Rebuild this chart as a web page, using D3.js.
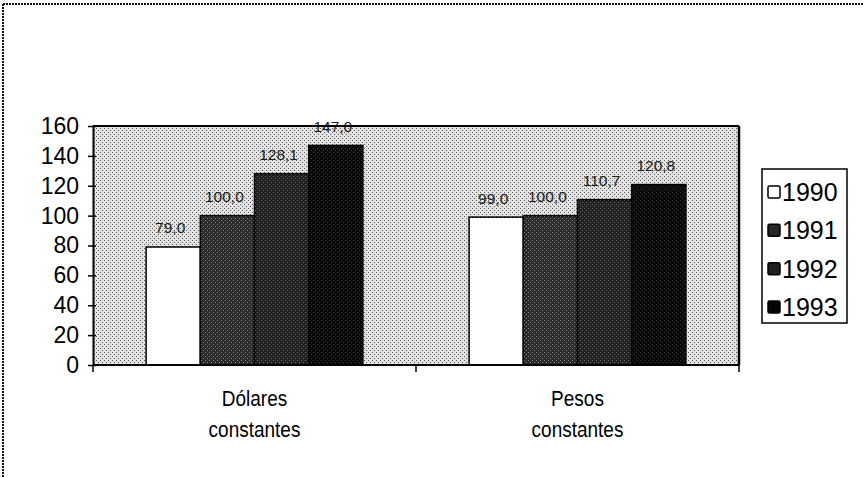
<!DOCTYPE html>
<html>
<head>
<meta charset="utf-8">
<script src="https://cdn.jsdelivr.net/npm/d3@7"></script>
<style>
  html, body { margin: 0; padding: 0; background: #fff; }
  svg { display: block; font-family: Arial, "Liberation Sans", sans-serif; }
</style>
</head>
<body>
<svg id="chart" width="864" height="478"></svg>
<script>
// ---- data ----
const categories = ["Dólares constantes", "Pesos constantes"];
const categoryLines = [["Dólares", "constantes"], ["Pesos", "constantes"]];
const years = ["1990", "1991", "1992", "1993"];
const values1990 = [79.0, 99.0];
const values1991 = [100.0, 100.0];
const values1992 = [128.1, 110.7];
const values1993 = [147.0, 120.8];
const yTicks = [0, 20, 40, 60, 80, 100, 120, 140, 160];

const seriesValues = [values1990, values1991, values1992, values1993];
const fmt = v => d3.format(".1f")(v).replace(".", ",");

const svg = d3.select("#chart");
const defs = svg.append("defs");

// stipple patterns
function stipple(id, base, dot) {
  const p = defs.append("pattern").attr("id", id).attr("patternUnits", "userSpaceOnUse")
    .attr("width", 4).attr("height", 4);
  p.append("rect").attr("width", 4).attr("height", 4).attr("fill", base);
  p.append("rect").attr("x", 0).attr("y", 0).attr("width", 1).attr("height", 1).attr("fill", dot);
  p.append("rect").attr("x", 2).attr("y", 2).attr("width", 1).attr("height", 1).attr("fill", dot);
}
stipple("bg", "#e2e2e2", "#5a5a5a");
stipple("p1991", "#2a2a2a", "#8a8a8a");
stipple("p1992", "#202020", "#727272");
stipple("p1993", "#080808", "#3a3a3a");
const fills = ["#ffffff", "url(#p1991)", "url(#p1992)", "url(#p1993)"];
const legendFills = ["#ffffff", "#262626", "#1e1e1e", "#050505"];

// outer dashed border (only top and left visible)
svg.append("line").attr("x1", 3).attr("y1", 4).attr("x2", 864).attr("y2", 4)
  .attr("stroke", "#111").attr("stroke-width", 2).attr("stroke-dasharray", "2,1");
svg.append("line").attr("x1", 3).attr("y1", 4).attr("x2", 3).attr("y2", 478)
  .attr("stroke", "#111").attr("stroke-width", 2).attr("stroke-dasharray", "2,1");

const plot = { left: 93, right: 739, top: 126, bottom: 365 };

const x0 = d3.scaleBand().domain(categories).range([plot.left, plot.right]).padding(0);
const x1 = d3.scaleBand().domain(years).range([0, x0.bandwidth()]).paddingInner(0).paddingOuter(0.98);
const y = d3.scaleLinear().domain([0, 160]).range([plot.bottom, plot.top]);

// plot background
svg.append("rect").attr("x", plot.left).attr("y", plot.top)
  .attr("width", plot.right - plot.left).attr("height", plot.bottom - plot.top)
  .attr("fill", "url(#bg)");

// bars
const groups = svg.append("g").selectAll("g").data(categories).join("g")
  .attr("transform", d => `translate(${x0(d)},0)`);
groups.each(function(cat, ci) {
  const g = d3.select(this);
  years.forEach((yr, si) => {
    const v = seriesValues[si][ci];
    g.append("rect")
      .attr("x", x1(yr)).attr("y", y(v))
      .attr("width", x1.bandwidth()).attr("height", y(0) - y(v))
      .attr("fill", fills[si]).attr("stroke", "#000").attr("stroke-width", 1.5);
  });
  years.forEach((yr, si) => {
    const v = seriesValues[si][ci];
    g.append("text")
      .attr("x", x1(yr) + x1.bandwidth() / 2 - 3)
      .attr("y", y(v) - 19)
      .attr("dy", "0.35em")
      .attr("text-anchor", "middle")
      .attr("font-size", 15.5)
      .attr("fill", "#1a1a1a")
      .text(fmt(v));
  });
});

// plot frame (top and right)
svg.append("line").attr("x1", plot.left).attr("x2", plot.right).attr("y1", plot.top).attr("y2", plot.top)
  .attr("stroke", "#000").attr("stroke-width", 2);
svg.append("line").attr("x1", plot.right).attr("x2", plot.right).attr("y1", plot.top).attr("y2", plot.bottom)
  .attr("stroke", "#000").attr("stroke-width", 2.5);

// y axis
const yAxis = svg.append("g").attr("transform", `translate(${plot.left},0)`)
  .call(d3.axisLeft(y).tickValues(yTicks).tickSize(5).tickPadding(9).tickSizeOuter(0));
yAxis.select(".domain").attr("stroke", "#000").attr("stroke-width", 2);
yAxis.selectAll(".tick line").attr("stroke", "#000").attr("stroke-width", 1.5).attr("x2", -5).attr("x1", 3);
yAxis.selectAll(".tick text").attr("font-size", 23).attr("fill", "#000")
  .attr("font-family", "Arial, 'Liberation Sans', sans-serif");

// x axis
const xAxis = svg.append("g").attr("transform", `translate(0,${plot.bottom})`);
xAxis.append("line").attr("x1", plot.left).attr("x2", plot.right).attr("y1", 0).attr("y2", 0)
  .attr("stroke", "#000").attr("stroke-width", 2);
const boundaries = categories.map(c => x0(c)).concat([x0(categories[categories.length - 1]) + x0.bandwidth()]);
xAxis.selectAll("line.tick").data(boundaries).join("line").attr("class", "tick")
  .attr("x1", d => d).attr("x2", d => d).attr("y1", 0).attr("y2", 7)
  .attr("stroke", "#000").attr("stroke-width", 1.5);

// category labels (slightly tall lettering as in the reference)
categories.forEach((c, i) => {
  const cx = x0(c) + x0.bandwidth() / 2;
  categoryLines[i].forEach((ln, k) => {
    svg.append("text")
      .attr("transform", `translate(${cx},${398 + k * 31}) scale(1,1.2)`)
      .attr("dy", "0.35em")
      .attr("text-anchor", "middle")
      .attr("font-size", 19)
      .attr("fill", "#000")
      .text(ln);
  });
});

// legend
const legend = svg.append("g");
legend.append("rect").attr("x", 762).attr("y", 169).attr("width", 85).attr("height", 154)
  .attr("fill", "#fff").attr("stroke", "#000").attr("stroke-width", 1.5);
const ly = d3.scalePoint().domain(years).range([192, 307]);
years.forEach((yr, i) => {
  legend.append("rect").attr("x", 768).attr("y", ly(yr) - 6).attr("width", 12).attr("height", 12)
    .attr("rx", 1.5).attr("fill", legendFills[i]).attr("stroke", "#000").attr("stroke-width", 1.5);
  legend.append("text").attr("x", 782).attr("y", ly(yr)).attr("dy", "0.36em")
    .attr("font-size", 25).attr("fill", "#000").text(yr);
});
</script>
</body>
</html>
